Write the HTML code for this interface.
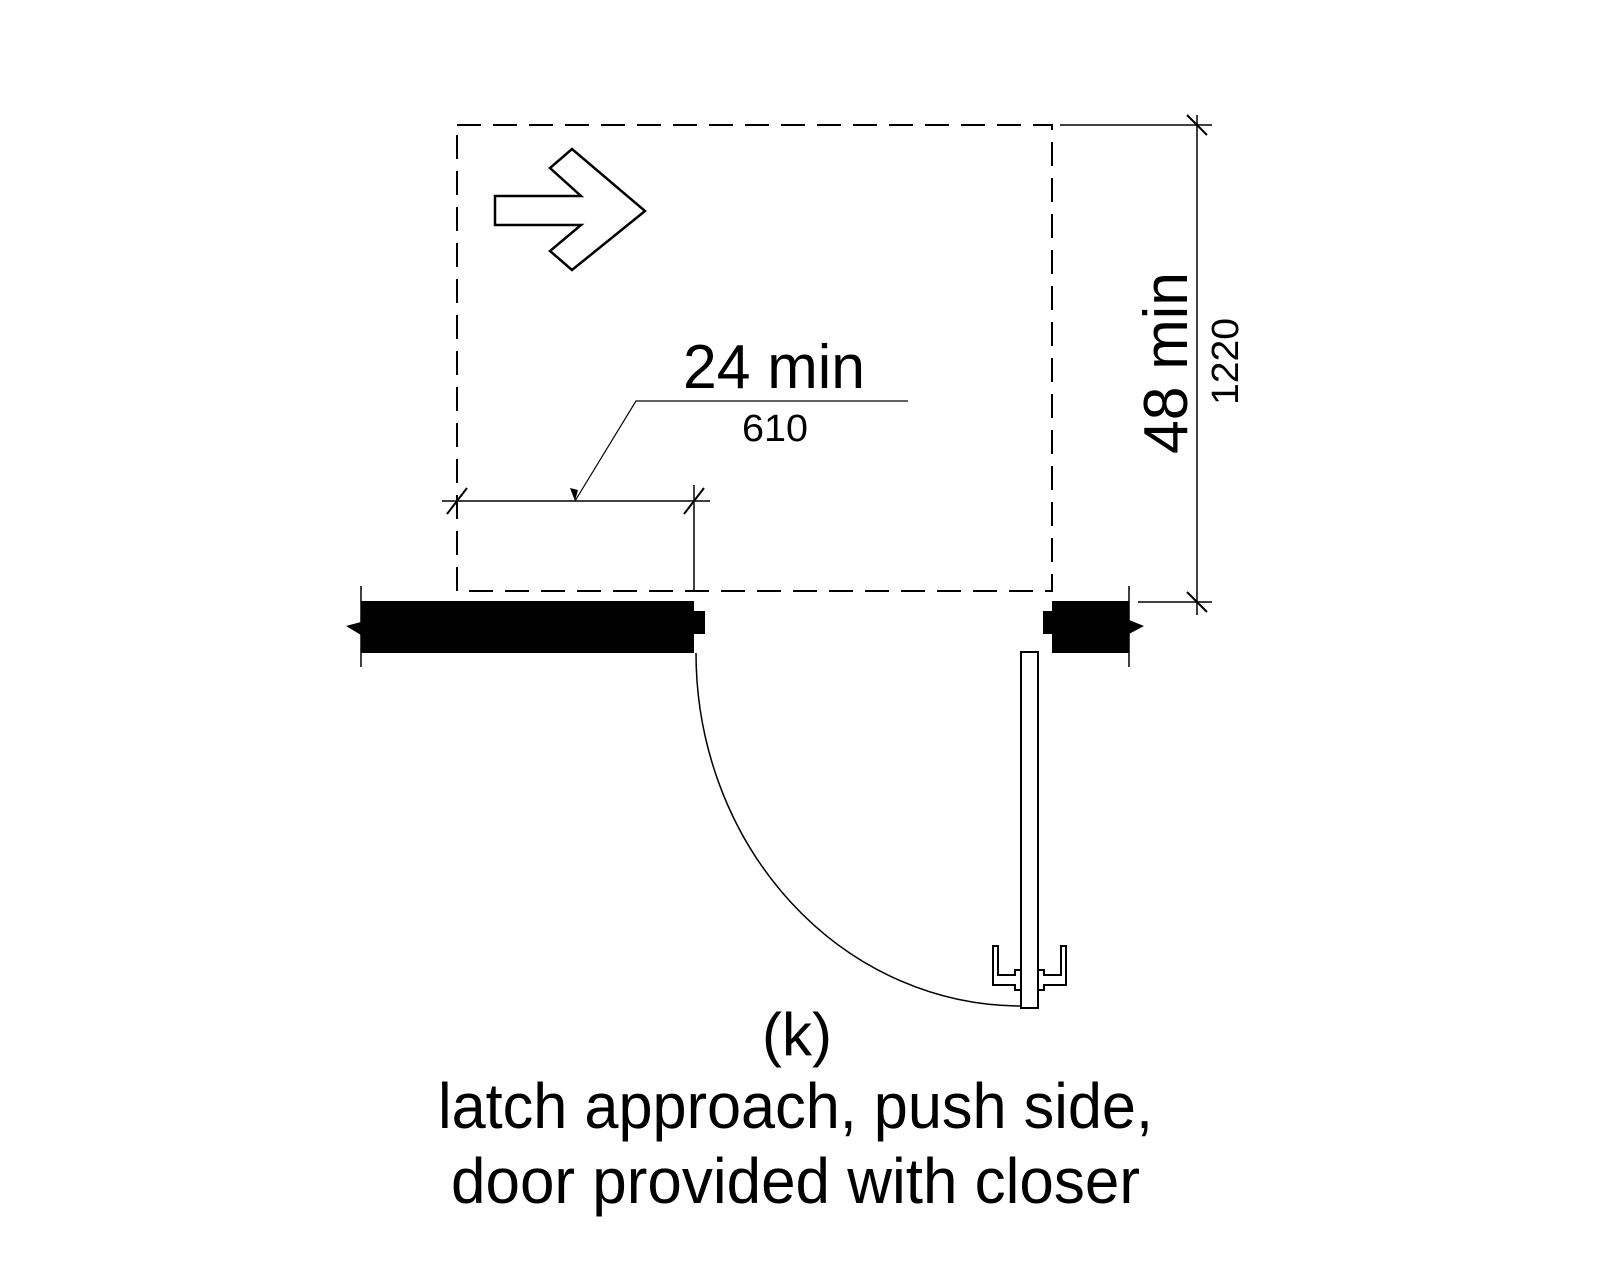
<!DOCTYPE html>
<html><head><meta charset="utf-8"><style>html,body{margin:0;padding:0;background:#fff}svg{display:block}</style></head>
<body>
<svg width="1600" height="1280" viewBox="0 0 1600 1280" xmlns="http://www.w3.org/2000/svg">
<g fill="none" stroke="#000">
<rect x="457" y="125" width="595" height="466" stroke-width="2" stroke-dasharray="24,12"/>
<polygon points="495,196 581,196 550,168 572,149 645,211 572,270 550,251 581,225 495,225" stroke-width="2.5"/>
<!-- 24 min dimension -->
<line x1="442" y1="501" x2="710" y2="501" stroke-width="1.5"/>
<line x1="694" y1="485" x2="694" y2="591" stroke-width="1.5"/>
<line x1="447" y1="514" x2="467" y2="488" stroke-width="2"/>
<line x1="684" y1="514" x2="704" y2="488" stroke-width="2"/>
<polyline points="575,501 636,401 908,401" stroke-width="1.2"/>
<!-- 48 min dimension -->
<line x1="1197" y1="115" x2="1197" y2="615" stroke-width="1.5"/>
<line x1="1060" y1="125" x2="1212" y2="125" stroke-width="1.5"/>
<line x1="1138" y1="602" x2="1212" y2="602" stroke-width="1.5"/>
<line x1="1187" y1="115" x2="1207" y2="135" stroke-width="2"/>
<line x1="1187" y1="592" x2="1207" y2="612" stroke-width="2"/>
<!-- wall break lines -->
<line x1="361" y1="586" x2="361" y2="667" stroke-width="1.5"/>
<line x1="1129" y1="586" x2="1129" y2="667" stroke-width="1.5"/>
<!-- door arc -->
<path d="M696 653 A325 353 0 0 0 1021 1006" stroke-width="1.5"/>
<!-- door -->
<rect x="1021" y="652" width="17" height="356" stroke-width="2" fill="#fff"/>
<polyline points="1021,970 1015,970 1015,975 998,975 998,946 993,946 993,985 1015,985 1015,990 1021,990" stroke-width="2"/>
<polyline points="1038,970 1044,970 1044,975 1061,975 1061,946 1066,946 1066,985 1044,985 1044,990 1038,990" stroke-width="2"/>
</g>
<polygon points="575,501 570,488 578,490" fill="#000"/>
<!-- walls -->
<polygon points="361,601 694,601 694,611 705,611 705,634 694,634 694,653 361,653 361,635 346,626 361,622" fill="#000"/>
<polygon points="1052,601 1129,601 1129,620 1144,626 1129,634 1129,653 1052,653 1052,634 1043,634 1043,611 1052,611" fill="#000"/>
<g font-family="Liberation Sans, Arial, sans-serif" fill="#000">
<text x="683" y="388" font-size="62" textLength="182" lengthAdjust="spacingAndGlyphs">24 min</text>
<text x="742" y="441" font-size="38" textLength="66" lengthAdjust="spacingAndGlyphs">610</text>
<text transform="translate(1187,454) rotate(-90)" font-size="62" textLength="182" lengthAdjust="spacingAndGlyphs">48 min</text>
<text transform="translate(1238,405) rotate(-90)" font-size="38" textLength="87" lengthAdjust="spacingAndGlyphs">1220</text>
<text x="797" y="1055" font-size="60" text-anchor="middle">(k)</text>
<text x="438" y="1128" font-size="64" textLength="715" lengthAdjust="spacingAndGlyphs">latch approach, push side,</text>
<text x="451" y="1203" font-size="64" textLength="689" lengthAdjust="spacingAndGlyphs">door provided with closer</text>
</g>
</svg>
</body></html>
